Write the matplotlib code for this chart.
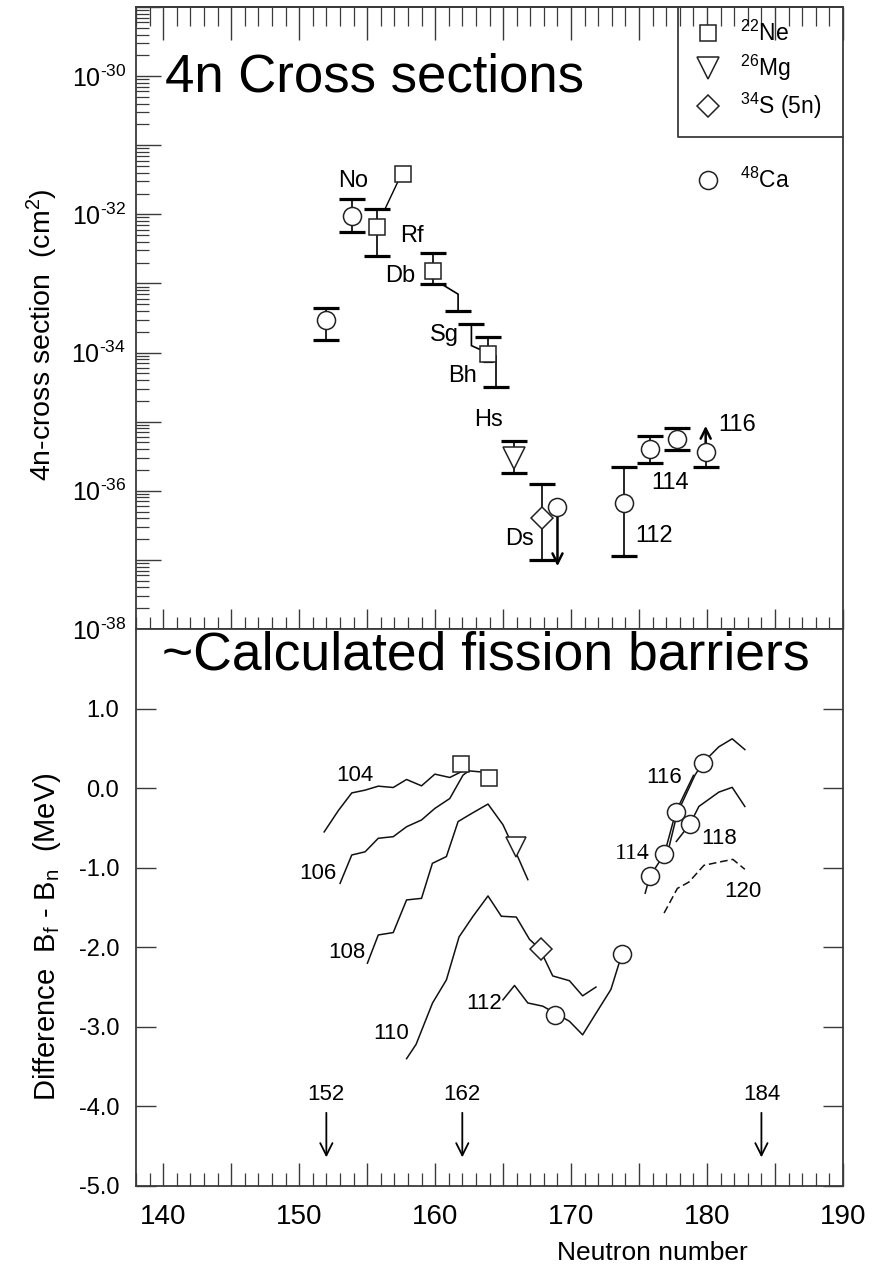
import numpy as np
import matplotlib
matplotlib.use('Agg')
import matplotlib.pyplot as plt
from matplotlib.ticker import FixedLocator, MultipleLocator, FuncFormatter, NullFormatter

plt.rcParams['font.family'] = ['Liberation Sans', 'DejaVu Sans']
plt.rcParams['mathtext.fontset'] = 'custom'
plt.rcParams['mathtext.rm'] = 'Liberation Sans'
plt.rcParams['mathtext.it'] = 'Liberation Sans:italic'
plt.rcParams['mathtext.bf'] = 'Liberation Sans:bold'
plt.rcParams['mathtext.sf'] = 'Liberation Sans'
plt.rcParams['axes.unicode_minus'] = False

# ---------------- top panel data (4n cross sections, cm^2) ----------------
ca_N = [152.0, 153.9, 169.0, 173.9, 175.8, 177.8, 179.9]
ca_sig = [3.0e-34, 9.5e-33, 5.8e-37, 6.6e-37, 4.0e-36, 5.6e-36, 3.6e-36]
ca_hi = [4.4e-34, 1.66e-32, np.nan, 2.2e-36, 6.3e-36, 8.1e-36, np.nan]
ca_lo = [1.5e-34, 5.6e-33, np.nan, 1.15e-37, 2.5e-36, 3.9e-36, 2.2e-36]
ca_down_N, ca_down_from, ca_down_to = 169.0, 5.8e-37, 8.1e-38
ca_up_N, ca_up_from, ca_up_to = 179.9, 3.6e-36, 8.7e-36

ne_N = [155.7, 157.65, 159.85, 163.9]
ne_sig = [6.6e-33, 3.8e-32, 1.5e-33, 9.5e-35]
ne_hi = [1.2e-32, np.nan, 2.75e-33, 1.66e-34]
ne_lo = [2.5e-33, np.nan, 9.8e-34, np.nan]
ne_inner_N = [159.85, 163.9]
ne_inner_hi = [1.9e-33, 1.15e-34]
ne_inner_lo = [1.23e-33, 7.6e-35]

mg_N = [165.8]
mg_sig = [3.0e-36]
mg_hi = [5.2e-36]
mg_lo = [1.8e-36]

s_N = [167.87]
s_sig = [4.1e-37]
s_hi = [1.26e-36]
s_lo = [1.0e-37]

# connector lines between neighbouring measurements
link1_N = [157.29, 156.31]
link1_s = [3.05e-32, 1.19e-32]
link2_N = [160.47, 161.69, 161.69]
link2_s = [9.8e-34, 7.0e-34, 4.0e-34]
link3_N = [162.67, 162.67, 163.52]
link3_s = [2.57e-34, 1.26e-34, 1.06e-34]
link4_N = [164.45, 164.45]
link4_s = [8.9e-35, 3.2e-35]

top_labels = ['No', 'Rf', 'Db', 'Sg', 'Bh', 'Hs', 'Ds', '112', '114', '116']
top_label_N = [154.0, 158.3, 157.4, 160.7, 162.05, 163.9, 166.2, 176.1, 177.25, 182.2]
top_label_s = [3.0e-32, 4.9e-33, 1.3e-33, 1.8e-34, 4.6e-35, 1.07e-35, 2.0e-37, 2.2e-37, 1.3e-36, 8.9e-36]

decades = [-38, -37, -36, -35, -34, -33, -32, -31, -30, -29]

# ---------------- bottom panel data (Bf - Bn, MeV) ----------------
c104_N = [151.84, 152.89, 153.87, 154.85, 155.82, 156.92, 157.9, 159.0, 159.98, 161.08, 162.05, 162.5, 163.3]
c104_v = [-0.55, -0.28, -0.06, -0.025, 0.025, 0.008, 0.109, 0.029, 0.176, 0.134, 0.217, 0.217, 0.205]
c106_N = [153.01, 153.87, 154.85, 155.82, 156.92, 157.9, 159.0, 159.98, 161.08, 162.05, 162.5]
c106_v = [-1.196, -0.84, -0.80, -0.63, -0.61, -0.485, -0.40, -0.255, -0.13, 0.163, 0.22]
c108_N = [155.02, 155.82, 156.92, 157.9, 159.0, 159.8, 160.83, 161.69, 162.67, 163.89, 164.99, 165.97, 166.82]
c108_v = [-2.20, -1.845, -1.815, -1.405, -1.385, -0.945, -0.86, -0.42, -0.32, -0.20, -0.46, -0.82, -1.15]
c110_N = [157.9, 158.6, 159.81, 160.83, 161.76, 162.79, 163.89, 164.87, 165.97, 166.94, 167.7, 168.65, 169.88, 170.85, 171.83]
c110_v = [-3.40, -3.22, -2.70, -2.41, -1.87, -1.61, -1.355, -1.61, -1.62, -1.90, -2.02, -2.36, -2.42, -2.61, -2.50]
c112_N = [164.99, 165.84, 166.82, 167.92, 168.85, 169.88, 170.85, 171.83, 172.93, 173.75]
c112_v = [-2.66, -2.48, -2.70, -2.74, -2.83, -2.93, -3.10, -2.83, -2.53, -2.08]
c114_N = [175.45, 175.79, 176.86, 177.7, 179.0]
c114_v = [-1.32, -1.11, -0.83, -0.30, 0.16]
c116_N = [177.05, 177.8, 179.1, 179.7, 180.87, 181.85, 182.78]
c116_v = [-0.85, -0.32, 0.16, 0.32, 0.52, 0.62, 0.485]
c118_N = [177.74, 178.75, 179.4, 180.87, 181.85, 182.78]
c118_v = [-0.67, -0.45, -0.23, -0.05, 0.01, -0.23]
c120_N = [176.84, 177.82, 178.67, 179.77, 180.87, 181.9, 182.78]
c120_v = [-1.57, -1.26, -1.18, -0.97, -0.93, -0.895, -1.02]

b_ne_N = [161.9, 163.94]
b_ne_v = [0.30, 0.13]
b_mg_N = [165.97]
b_mg_v = [-0.74]
b_s_N = [167.8]
b_s_v = [-2.02]
b_ca_N = [168.85, 173.75, 175.8, 176.86, 177.7, 178.75, 179.7]
b_ca_v = [-2.85, -2.08, -1.11, -0.83, -0.30, -0.45, 0.32]

curve_labels = ['104', '106', '108', '110', '112', '116', '118', '120']
curve_label_N = [154.1, 151.4, 153.5, 156.8, 163.64, 176.84, 180.87, 182.65]
curve_label_v = [0.163, -1.07, -2.07, -3.08, -2.71, 0.13, -0.63, -1.30]
serif_label, serif_label_N, serif_label_v = '114', 174.5, -0.82

magic_N = [152, 162, 184]
magic_top, magic_bot, magic_text = -4.08, -4.64, -3.85

bottom_yticks = [-5, -4, -3, -2, -1, 0, 1]

# ---------------- figure ----------------
W, H = 881, 1264
fig = plt.figure(figsize=(W / 100, H / 100), dpi=100)
L, R = 136 / W, 843 / W
yt, ym, yb = 1 - 7 / H, 1 - 629 / H, 1 - 1186 / H
ax1 = fig.add_axes([L, ym, R - L, yt - ym])
ax2 = fig.add_axes([L, yb, R - L, ym - yb])

spc = '#3a3a3a'
for ax in (ax1, ax2):
    for s in ax.spines.values():
        s.set_color(spc)
        s.set_linewidth(1.3)
    ax.set_xlim(138, 190)

# ---- top panel ----
ax1.set_yscale('log')
ax1.set_ylim(1e-38, 1e-29)
major_vals = [10.0 ** e for e in decades]
minor_vals = [k * 10.0 ** e for e in decades[:-1] for k in range(2, 10)]
ax1.yaxis.set_major_locator(FixedLocator(major_vals))
ax1.yaxis.set_minor_locator(FixedLocator(minor_vals))
def logfmt(v, pos):
    e = int(round(np.log10(v)))
    return r'$10^{\text{-%d}}$' % (-e) if e % 2 == 0 else ''
ax1.yaxis.set_major_formatter(FuncFormatter(logfmt))
ax1.yaxis.set_minor_formatter(NullFormatter())
ax1.tick_params(axis='y', which='major', direction='in', length=18, width=1.0, color=spc,
                left=True, right=False, labelsize=18, pad=7)
ax1.tick_params(axis='y', which='minor', direction='in', length=9, width=0.9, color=spc,
                left=True, right=False)
ax1.xaxis.set_major_locator(MultipleLocator(5))
ax1.xaxis.set_minor_locator(MultipleLocator(1))
ax1.tick_params(axis='x', which='major', direction='in', length=14.5, width=1.0, color=spc,
                bottom=True, top=False, labelbottom=False)
ax1.tick_params(axis='x', which='minor', direction='in', length=8.6, width=0.9, color=spc,
                bottom=True, top=False)
sec = ax1.secondary_xaxis('top')
sec.xaxis.set_major_locator(MultipleLocator(5))
sec.xaxis.set_minor_locator(MultipleLocator(1))
sec.tick_params(axis='x', which='major', direction='in', length=24, width=1.0, color=spc, labeltop=False)
sec.tick_params(axis='x', which='minor', direction='in', length=13.5, width=0.9, color=spc)
sec.spines['top'].set_color(spc)
sec.spines['top'].set_linewidth(1.3)

capkw = dict(marker='_', ms=19, mew=2.3, color='black', ls='none', zorder=3)
def bar(ax, x, lo, hi, cap_lo=True, cap_hi=True, ms=19):
    ax.plot([x, x], [lo, hi], color='black', lw=1.2, zorder=2)
    kw = dict(capkw)
    kw['ms'] = ms
    if cap_lo:
        ax.plot([x], [lo], **kw)
    if cap_hi:
        ax.plot([x], [hi], **kw)

def bars(ax, xs, sig, his, los):
    for x, s, h, l in zip(xs, sig, his, los):
        hh = s if np.isnan(h) else h
        ll = s if np.isnan(l) else l
        if hh != ll:
            bar(ax, x, ll, hh, cap_lo=not np.isnan(l), cap_hi=not np.isnan(h))

bars(ax1, ca_N, ca_sig, ca_hi, ca_lo)
bars(ax1, ne_N, ne_sig, ne_hi, ne_lo)
bars(ax1, mg_N, mg_sig, mg_hi, mg_lo)
bars(ax1, s_N, s_sig, s_hi, s_lo)
for x, h, l in zip(ne_inner_N, ne_inner_hi, ne_inner_lo):
    bar(ax1, x, l, h, ms=7)

ax1.plot(link1_N, link1_s, color='black', lw=1.0, zorder=2)
ax1.plot(link2_N, link2_s, color='black', lw=1.2, zorder=2)
ax1.plot([link2_N[-1]], [link2_s[-1]], **capkw)
ax1.plot(link3_N, link3_s, color='black', lw=1.2, zorder=2)
ax1.plot([link3_N[0]], [link3_s[0]], **capkw)
ax1.plot(link4_N, link4_s, color='black', lw=1.2, zorder=2)
ax1.plot([link4_N[-1]], [link4_s[-1]], **capkw)

arrowkw = dict(arrowstyle='->', lw=1.8, color='black', mutation_scale=18, shrinkA=0, shrinkB=0)
ax1.annotate('', xy=(ca_down_N, ca_down_to), xytext=(ca_down_N, ca_down_from), arrowprops=arrowkw, zorder=2)
ax1.annotate('', xy=(ca_up_N, ca_up_to), xytext=(ca_up_N, ca_up_from), arrowprops=arrowkw, zorder=2)

mk = dict(ls='none', mfc='white', mec='#222222', mew=1.1, zorder=5)
ax1.plot(ca_N, ca_sig, marker='o', ms=13, **mk)
ax1.plot(ne_N, ne_sig, marker='s', ms=11, **mk)
ax1.plot(mg_N, mg_sig, marker='v', ms=16, **mk)
ax1.plot(s_N, s_sig, marker='D', ms=11, **mk)

for t, x, y in zip(top_labels, top_label_N, top_label_s):
    ax1.text(x, y, t, fontsize=17, ha='center', va='center', zorder=6)

ax1.text(0.041, 0.887, '4n Cross sections', transform=ax1.transAxes, fontsize=38,
         ha='left', va='center')

# legend (hand drawn)
lx0, ly0 = (678 - 136) / 707, (629 - 137) / 622
ax1.plot([lx0, lx0, 1.0], [1.0, ly0, ly0], transform=ax1.transAxes, color=spc, lw=1.3, clip_on=False)
leg_marks = ['s', 'v', 'D', 'o']
leg_ms = [11, 16, 11, 13]
leg_text = [r'$^{22}$Ne', r'$^{26}$Mg', r'$^{34}$S (5n)', r'$^{48}$Ca']
leg_y = [(629 - 33) / 622, (629 - 68) / 622, (629 - 106) / 622, (629 - 180) / 622]
for m, s_, t, y in zip(leg_marks, leg_ms, leg_text, leg_y):
    ax1.plot([(708 - 136) / 707], [y], marker=m, ms=s_, transform=ax1.transAxes, **mk)
    ax1.text((740 - 136) / 707, y, t, transform=ax1.transAxes, fontsize=16.5, ha='left', va='center')

ax1.set_ylabel('4n-cross section  (cm$^2$)', fontsize=20.5)
ax1.yaxis.set_label_coords(-0.108, 0.474)

# ---- bottom panel ----
ax2.set_ylim(-5, 2)
ax2.yaxis.set_major_locator(FixedLocator(bottom_yticks))
ax2.yaxis.set_major_formatter(FuncFormatter(lambda v, p: '%.1f' % v))
ax2.tick_params(axis='y', which='major', direction='in', length=14.4, width=1.0, color=spc,
                left=True, right=True, labelsize=17, pad=12)
ax2.xaxis.set_major_locator(MultipleLocator(5))
ax2.xaxis.set_minor_locator(MultipleLocator(1))
ax2.xaxis.set_major_formatter(FuncFormatter(lambda v, p: '%d' % v if int(round(v)) % 10 == 0 else ''))
ax2.tick_params(axis='x', which='major', direction='in', length=16.5, width=1.0, color=spc,
                bottom=True, top=False, labelsize=20, pad=13)
ax2.tick_params(axis='x', which='minor', direction='in', length=9.7, width=0.9, color=spc,
                bottom=True, top=False)

lkw = dict(color='#111111', lw=1.1, zorder=2)
ax2.plot(c104_N, c104_v, **lkw)
ax2.plot(c106_N, c106_v, **lkw)
ax2.plot(c108_N, c108_v, **lkw)
ax2.plot(c110_N, c110_v, **lkw)
ax2.plot(c112_N, c112_v, **lkw)
ax2.plot(c114_N, c114_v, **lkw)
ax2.plot(c116_N, c116_v, **lkw)
ax2.plot(c118_N, c118_v, **lkw)
ax2.plot(c120_N, c120_v, color='#111111', lw=1.1, ls=(0, (5, 2.5)), zorder=2)

ax2.plot(b_ne_N, b_ne_v, marker='s', ms=11, **mk)
ax2.plot(b_mg_N, b_mg_v, marker='v', ms=15, **mk)
ax2.plot(b_s_N, b_s_v, marker='D', ms=11, **mk)
ax2.plot(b_ca_N, b_ca_v, marker='o', ms=13, **mk)

for t, x, y in zip(curve_labels, curve_label_N, curve_label_v):
    ax2.text(x, y, t, fontsize=16, ha='center', va='center')
ax2.text(serif_label_N, serif_label_v, serif_label, fontsize=17, ha='center', va='center',
         family='Liberation Serif')

akw = dict(arrowstyle='->', lw=1.3, color='black', mutation_scale=22, shrinkA=0, shrinkB=0)
for n in magic_N:
    ax2.annotate('', xy=(n, magic_bot), xytext=(n, magic_top), arrowprops=akw)
    ax2.text(n, magic_text, str(n), fontsize=16, ha='center', va='center')

ax2.text(0.037, 0.953, '~Calculated fission barriers', transform=ax2.transAxes, fontsize=38.5,
         ha='left', va='center')

ax2.set_ylabel(r'Difference  B$_\mathrm{f}$ - B$_\mathrm{n}$  (MeV)', fontsize=21)
ax2.yaxis.set_label_coords(-0.103, 0.447)
ax2.set_xlabel('Neutron number', fontsize=19)
ax2.xaxis.set_label_coords(0.731, -0.098)

fig.savefig('out.png', dpi=100)
